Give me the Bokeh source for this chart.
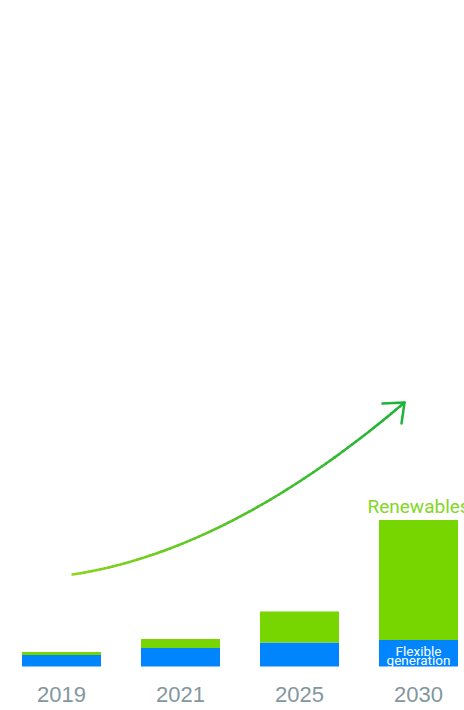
import numpy as np
from bokeh.plotting import figure
from bokeh.models import Range1d
from bokeh.core.properties import value
from bokeh.embed import file_html
from bokeh.resources import INLINE

# ---- data ----
years = ["2019", "2021", "2025", "2030"]
flexible = [11.5, 18.5, 24.0, 26.5]
renewables = [3.0, 9.0, 31.0, 120.0]

BLUE = "#0085ff"
GREEN = "#77d600"

idx = np.arange(len(years))
flex = np.array(flexible)
ren = np.array(renewables)

PX = 119.0  # pixels per category step
p = figure(width=464, height=710, output_backend="svg", toolbar_location=None,
           x_range=Range1d(-61 / PX, -61 / PX + 464 / PX), y_range=Range1d(-44, 666),
           x_axis_location=None, y_axis_location=None, min_border=0)
p.grid.visible = False
p.outline_line_color = None
p.background_fill_color = "white"
p.border_fill_color = "white"

bw = 79 / PX
p.vbar(x=idx, bottom=0, top=flex, width=bw, fill_color=BLUE, line_color=None)
p.vbar(x=idx, bottom=flex, top=flex + ren, width=bw, fill_color=GREEN, line_color=None)

# year labels
p.text(x=idx, y=[-28] * len(years), text=years, text_align="center", text_baseline="middle",
       text_font=value("Liberation Sans"), text_font_size="22px", text_color="#82979e")

# series labels
p.text(x=[(367 - 61) / PX], y=[160], text=["Renewables"], text_align="left",
       text_baseline="alphabetic", text_font=value("Roboto"), text_font_size="19px",
       text_color="#84d627")
p.text(x=[3, 3], y=[16, 6.5], text=["Flexible", "generation"], text_align="center",
       text_baseline="alphabetic", text_font=value("Roboto"), text_font_size="13.5px",
       text_color="white")

# growth arrow (quadratic bezier with colour gradient)
P0 = np.array([(72 - 61) / PX, 92.0])
C = np.array([(230 - 61) / PX, 116.0])
P2 = np.array([(404 - 61) / PX, 264.0])
t = np.linspace(0, 1, 80)
pts = ((1 - t) ** 2)[:, None] * P0 + (2 * (1 - t) * t)[:, None] * C + (t ** 2)[:, None] * P2
c0 = np.array([0x8a, 0xd6, 0x17])
c1 = np.array([0x1d, 0xb4, 0x3a])
xs, ys, cols = [], [], []
for i in range(len(t) - 1):
    xs.append([pts[i, 0], pts[i + 1, 0]])
    ys.append([pts[i, 1], pts[i + 1, 1]])
    f = (t[i] + t[i + 1]) / 2
    c = (c0 * (1 - f) + c1 * f).astype(int)
    cols.append("#%02x%02x%02x" % tuple(c))
p.multi_line(xs=xs, ys=ys, line_color=cols, line_width=2.5, line_cap="round")
# arrow head
p.multi_line(xs=[[(382 - 61) / PX, P2[0], (401 - 61) / PX]], ys=[[263, P2[1], 243]],
             line_color="#1db43a", line_width=2.5, line_cap="round", line_join="round")

open("out.html", "w").write(file_html(p, INLINE))
